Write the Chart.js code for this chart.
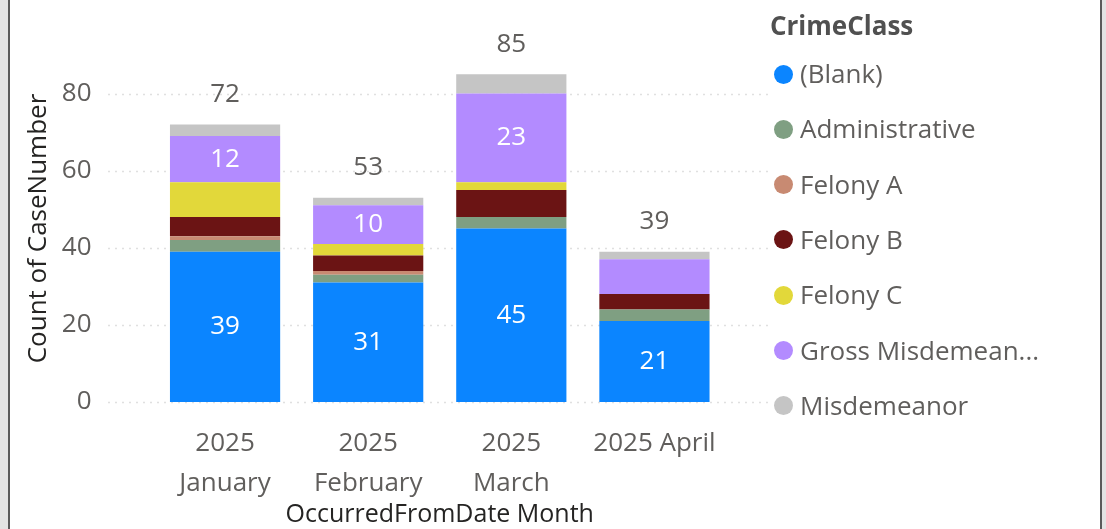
<!DOCTYPE html>
<html>
<head>
<meta charset="utf-8">
<script src="https://cdn.jsdelivr.net/npm/chart.js@4"></script>
<style>
  html, body { margin: 0; padding: 0; width: 1106px; height: 529px; overflow: hidden; background: #e3e3e3; font-family: "Open Sans", sans-serif; }
  #frame { position: absolute; left: 8px; top: 0; width: 1090px; height: 560px; background: #fff; border-left: 2px solid #5a5a5a; border-right: 2px solid #5a5a5a; }
  #wrap { position: absolute; left: 10px; top: 0; width: 770px; height: 540px; }
  #legend { position: absolute; left: 770px; top: 0; width: 330px; color: #605e5c; font-size: 26px; }
  #legend .title { position: absolute; left: 0; top: 7px; font-weight: 700; color: #505050; white-space: nowrap; }
  #legend .item { position: absolute; left: 4px; height: 36px; line-height: 36px; white-space: nowrap; }
  #legend .dot { display: inline-block; width: 19px; height: 19px; border-radius: 50%; vertical-align: middle; margin-right: 7px; position: relative; top: -2px; }
</style>
</head>
<body>
<div id="frame"></div>
<div id="wrap"><canvas id="grafico" width="770" height="540"></canvas></div>
<div id="legend"></div>
<script>
// Dados do gráfico
const categorias = [['2025', 'January'], ['2025', 'February'], ['2025', 'March'], '2025 April'];
const blank = [39, 31, 45, 21];
const administrative = [3, 2, 3, 3];
const felonyA = [1, 1, 0, 0];
const felonyB = [5, 4, 7, 4];
const felonyC = [9, 3, 2, 0];
const grossMisd = [12, 10, 23, 9];
const misdemeanor = [3, 2, 5, 2];
const yTicks = [0, 20, 40, 60, 80];

const series = [
    { label: '(Blank)', data: blank, color: '#0b85ff' },
    { label: 'Administrative', data: administrative, color: '#7f9f82' },
    { label: 'Felony A', data: felonyA, color: '#c88a72' },
    { label: 'Felony B', data: felonyB, color: '#6b1414' },
    { label: 'Felony C', data: felonyC, color: '#e2d83a' },
    { label: 'Gross Misdemeanor', data: grossMisd, color: '#b38bff' },
    { label: 'Misdemeanor', data: misdemeanor, color: '#c5c5c5' }
];

// totais por mês
const totais = categorias.map(function (c, i) {
    return series.reduce(function (s, d) { return s + d.data[i]; }, 0);
});

// Legenda em HTML
var legenda = document.getElementById('legend');
var titulo = document.createElement('div');
titulo.className = 'title';
titulo.textContent = 'CrimeClass';
legenda.appendChild(titulo);
series.forEach(function (s, i) {
    var item = document.createElement('div');
    item.className = 'item';
    item.style.top = (55 + i * 55.3) + 'px';
    var nome = s.label === 'Gross Misdemeanor' ? 'Gross Misdemean...' : s.label;
    item.innerHTML = '<span class="dot" style="background:' + s.color + '"></span>' + nome;
    legenda.appendChild(item);
});

// Linhas de grade pontilhadas (mais largas que a área das barras)
const gradePlugin = {
    id: 'grade',
    beforeDatasetsDraw: function (chart) {
        var ctx = chart.ctx;
        var y = chart.scales.y;
        ctx.save();
        ctx.strokeStyle = '#e0e0e0';
        ctx.lineWidth = 1.5;
        ctx.setLineDash([2, 5]);
        yTicks.forEach(function (v) {
            var py = Math.round(y.getPixelForValue(v)) + 0.5;
            ctx.beginPath();
            ctx.moveTo(98, py);
            ctx.lineTo(758, py);
            ctx.stroke();
        });
        ctx.restore();
    }
};

// Rótulos de dados
const rotulosPlugin = {
    id: 'rotulos',
    afterDatasetsDraw: function (chart) {
        var ctx = chart.ctx;
        ctx.save();
        ctx.font = '26px "Open Sans"';
        ctx.textAlign = 'center';
        ctx.textBaseline = 'middle';
        chart.data.datasets.forEach(function (ds, di) {
            var meta = chart.getDatasetMeta(di);
            meta.data.forEach(function (bar, i) {
                if (ds.data[i] >= 10) {
                    ctx.fillStyle = '#ffffff';
                    ctx.fillText(String(ds.data[i]), bar.x, (bar.y + bar.base) / 2);
                }
            });
        });
        var x = chart.scales.x;
        var y = chart.scales.y;
        ctx.fillStyle = '#605e5c';
        totais.forEach(function (t, i) {
            ctx.fillText(String(t), x.getPixelForValue(i), y.getPixelForValue(t) - 30);
        });
        ctx.restore();
    }
};

var ctxGrafico = document.getElementById('grafico').getContext('2d');
var grafico = new Chart(ctxGrafico, {
    type: 'bar',
    data: {
        labels: categorias,
        datasets: series.map(function (s) {
            return {
                label: s.label,
                data: s.data,
                backgroundColor: s.color,
                borderWidth: 0,
                barPercentage: 0.77,
                categoryPercentage: 1
            };
        })
    },
    options: {
        responsive: false,
        animation: false,
        layout: { padding: { top: 55, left: 13, right: 54, bottom: 0 } },
        plugins: {
            legend: { display: false },
            tooltip: { enabled: false }
        },
        scales: {
            x: {
                stacked: true,
                grid: { display: false },
                border: { display: false },
                afterFit: function (scale) { scale.height = 138; },
                ticks: {
                    color: '#605e5c',
                    font: { family: 'Open Sans', size: 26, lineHeight: 1.54 },
                    padding: 14,
                    maxRotation: 0
                },
                title: {
                    display: true,
                    text: 'OccurredFromDate Month',
                    color: '#252423',
                    font: { family: 'Open Sans', size: 25 },
                    padding: { top: 0, bottom: 10 }
                }
            },
            y: {
                stacked: true,
                min: 0,
                max: 90,
                grid: { display: false },
                border: { display: false },
                afterBuildTicks: function (scale) {
                    scale.ticks = yTicks.map(function (v) { return { value: v }; });
                },
                afterFit: function (scale) {
                    scale.width = 130.5;
                    scale.paddingTop = 0;
                    scale.paddingBottom = 0;
                },
                ticks: {
                    color: '#605e5c',
                    font: { family: 'Open Sans', size: 26 },
                    padding: 54
                },
                title: {
                    display: true,
                    text: 'Count of CaseNumber',
                    color: '#252423',
                    font: { family: 'Open Sans', size: 26 },
                    padding: { top: 0, bottom: 4 }
                }
            }
        }
    },
    plugins: [gradePlugin, rotulosPlugin]
});
</script>
</body>
</html>
